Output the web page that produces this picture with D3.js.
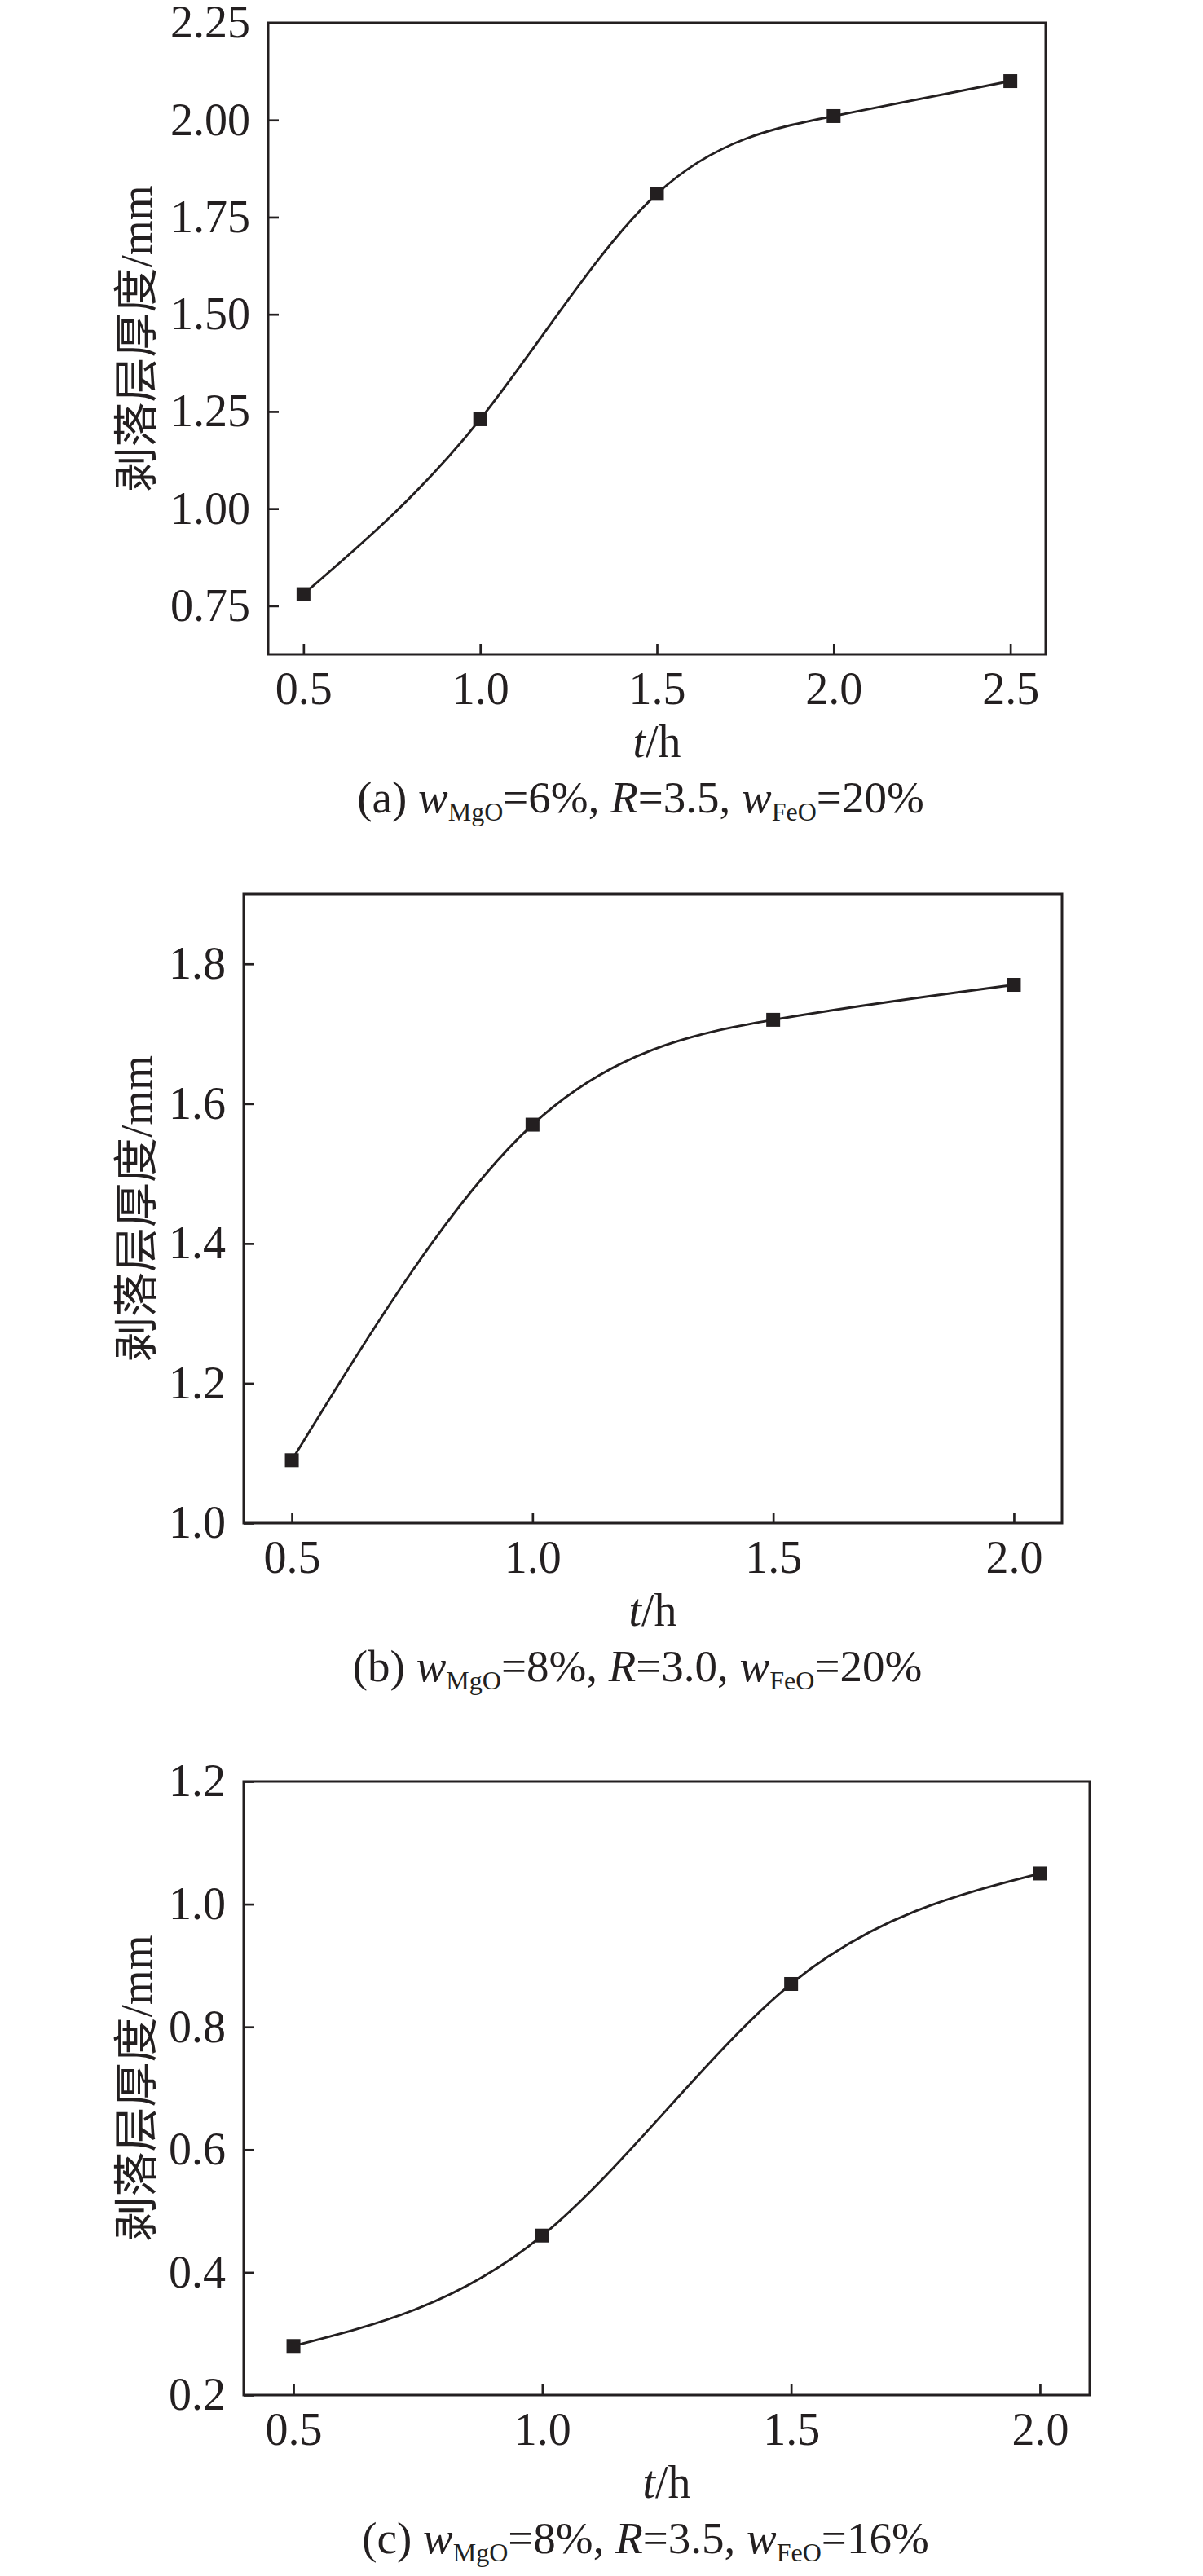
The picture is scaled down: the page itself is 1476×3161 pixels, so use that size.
<!DOCTYPE html>
<html>
<head>
<meta charset="utf-8">
<script src="https://cdn.jsdelivr.net/npm/d3@7"></script>
<style>
  html, body { margin: 0; padding: 0; background: #ffffff; }
  svg { display: block; }
  text { font-family: "Liberation Serif", "Times New Roman", serif; fill: #231f20; }
</style>
</head>
<body>
<script>
// ---------- data ----------
const timeA = [0.5, 1.0, 1.5, 2.0, 2.5];
const thickA = [0.78, 1.23, 1.81, 2.01, 2.10];
const timeB = [0.5, 1.0, 1.5, 2.0];
const thickB = [1.09, 1.57, 1.72, 1.77];
const timeC = [0.5, 1.0, 1.5, 2.0];
const thickC = [0.28, 0.46, 0.87, 1.05];

const xTicksA = [0.5, 1.0, 1.5, 2.0, 2.5];
const yTicksA = [0.75, 1.00, 1.25, 1.50, 1.75, 2.00, 2.25];
const xTicksB = [0.5, 1.0, 1.5, 2.0];
const yTicksB = [1.0, 1.2, 1.4, 1.6, 1.8];
const xTicksC = [0.5, 1.0, 1.5, 2.0];
const yTicksC = [0.2, 0.4, 0.6, 0.8, 1.0, 1.2];

const yTitle = "剥落层厚度/mm";
const captionA = ["(a) ", "w", "MgO", "=6%, ", "R", "=3.5, ", "w", "FeO", "=20%"];
const captionB = ["(b) ", "w", "MgO", "=8%, ", "R", "=3.0, ", "w", "FeO", "=20%"];
const captionC = ["(c) ", "w", "MgO", "=8%, ", "R", "=3.5, ", "w", "FeO", "=16%"];

// ---------- layout ----------
const W = 1476, H = 3161;
const ink = "#231f20";
const panels = [
  { t: timeA, v: thickA, xt: xTicksA, yt: yTicksA, xd: [0.4, 2.6], yd: [0.625, 2.25], yf: ".2f",
    box: { l: 329, r: 1283, t: 28, b: 803 }, cap: captionA, capX: 786 },
  { t: timeB, v: thickB, xt: xTicksB, yt: yTicksB, xd: [0.4, 2.1], yd: [1.0, 1.9], yf: ".1f",
    box: { l: 299, r: 1303, t: 1097, b: 1869 }, cap: captionB, capX: 782 },
  { t: timeC, v: thickC, xt: xTicksC, yt: yTicksC, xd: [0.4, 2.1], yd: [0.2, 1.2], yf: ".1f",
    box: { l: 299, r: 1337, t: 2186, b: 2939 }, cap: captionC, capX: 792 }
];

const svg = d3.select("body").append("svg")
  .attr("width", W).attr("height", H)
  .attr("viewBox", `0 0 ${W} ${H}`);
svg.append("rect").attr("width", W).attr("height", H).attr("fill", "#fff");

panels.forEach(p => {
  const b = p.box;
  const x = d3.scaleLinear().domain(p.xd).range([b.l, b.r]);
  const y = d3.scaleLinear().domain(p.yd).range([b.b, b.t]);
  const g = svg.append("g");

  // x axis
  const xAx = g.append("g").attr("transform", `translate(0,${b.b})`)
    .call(d3.axisBottom(x).tickValues(p.xt).tickFormat(d3.format(".1f"))
      .tickSizeInner(-13).tickSizeOuter(0).tickPadding(21));
  xAx.select(".domain").remove();
  xAx.selectAll(".tick line").attr("stroke", ink).attr("stroke-width", 2.7);
  xAx.selectAll(".tick text").attr("font-size", 56).attr("fill", ink)
    .style("font-family", "'Liberation Serif', serif");

  // y axis
  const yAx = g.append("g").attr("transform", `translate(${b.l},0)`)
    .call(d3.axisLeft(y).tickValues(p.yt).tickFormat(d3.format(p.yf))
      .tickSizeInner(-13).tickSizeOuter(0).tickPadding(22));
  yAx.select(".domain").remove();
  yAx.selectAll(".tick line").attr("stroke", ink).attr("stroke-width", 2.7);
  yAx.selectAll(".tick text").attr("font-size", 56).attr("fill", ink)
    .style("font-family", "'Liberation Serif', serif");

  // frame
  g.append("rect")
    .attr("x", b.l).attr("y", b.t)
    .attr("width", b.r - b.l).attr("height", b.b - b.t)
    .attr("fill", "none").attr("stroke", ink).attr("stroke-width", 3);

  // curve
  const pts = p.t.map((t, i) => [t, p.v[i]]);
  const line = d3.line().x(d => x(d[0])).y(d => y(d[1])).curve(d3.curveNatural);
  g.append("path").datum(pts).attr("d", line)
    .attr("fill", "none").attr("stroke", ink).attr("stroke-width", 2.9);

  // markers
  const ms = 17;
  g.selectAll("rect.pt").data(pts).enter().append("rect").attr("class", "pt")
    .attr("x", d => x(d[0]) - ms / 2).attr("y", d => y(d[1]) - ms / 2)
    .attr("width", ms).attr("height", ms).attr("fill", ink);

  // y title
  const cy = (b.t + b.b) / 2;
  g.append("text")
    .attr("transform", `translate(167,${cy}) rotate(-90)`)
    .attr("text-anchor", "middle").attr("dominant-baseline", "central")
    .attr("font-size", 55)
    .style("font-family", "'Liberation Serif', 'Noto Sans CJK SC', serif")
    .text(yTitle);

  // x title
  const xt = g.append("text")
    .attr("x", (b.l + b.r) / 2).attr("y", b.b + 126)
    .attr("text-anchor", "middle").attr("font-size", 56);
  xt.append("tspan").attr("font-style", "italic").text("t");
  xt.append("tspan").text("/h");

  // caption
  const cap = g.append("text")
    .attr("x", p.capX).attr("y", b.b + 194)
    .attr("text-anchor", "middle").attr("font-size", 55);
  p.cap.forEach((s, i) => {
    const ts = cap.append("tspan").text(s);
    if (s === "w" || s === "R") ts.attr("font-style", "italic");
    if (s === "MgO" || s === "FeO") {
      ts.attr("font-size", 32).attr("dy", 10);
    } else if (i > 0 && (p.cap[i - 1] === "MgO" || p.cap[i - 1] === "FeO")) {
      ts.attr("dy", -10);
    }
  });
});
</script>
</body>
</html>
